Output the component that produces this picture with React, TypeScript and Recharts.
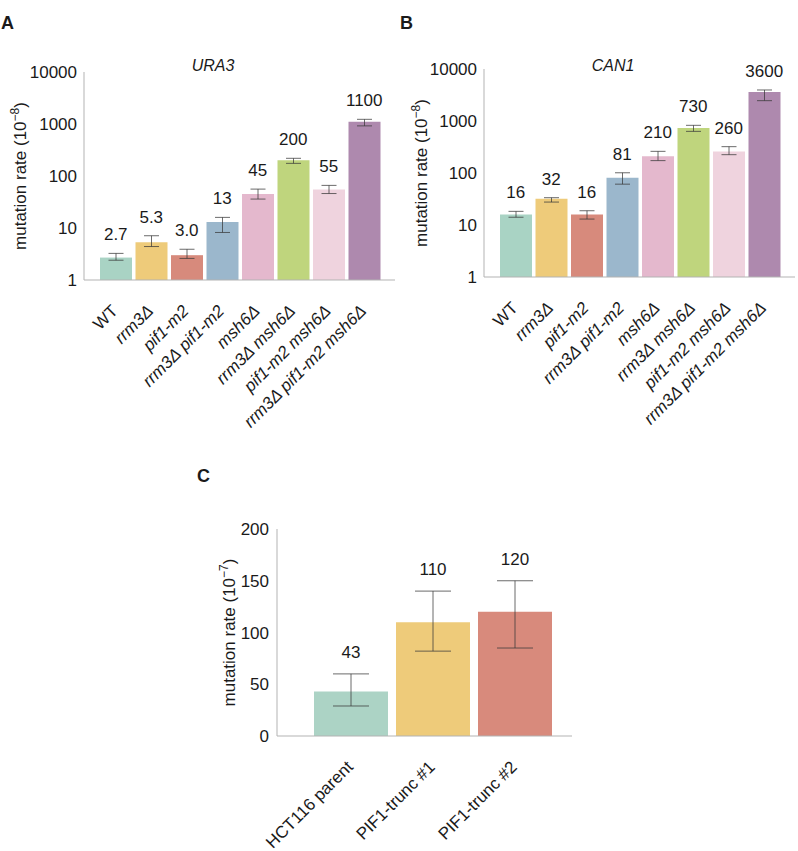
import React from 'react';
import { ComposedChart, Bar, Line, XAxis, YAxis, ErrorBar, LabelList, Label, Cell } from 'recharts';

const FONT = '"Liberation Sans", Arial, Helvetica, sans-serif';
const INK = '#1a1a1a';
const AXIS = '#b3b3b3';

// yeast genotypes (panels A and B)
const genotypes = ['WT', 'rrm3Δ', 'pif1-m2', 'rrm3Δ pif1-m2', 'msh6Δ', 'rrm3Δ msh6Δ', 'pif1-m2 msh6Δ', 'rrm3Δ pif1-m2 msh6Δ'];
const genotypeColors = ['#a9d3c4', '#eecb7a', '#d78a7c', '#9bb7cc', '#e4b8cd', '#bfd57d', '#efd3de', '#ae89ae'];

const ura3Rate = [2.7, 5.3, 3.0, 13, 45, 200, 55, 1100];
const ura3Low = [2.4, 4.4, 2.6, 8.2, 36, 175, 46, 920];
const ura3High = [3.25, 7.1, 3.9, 16, 56, 219, 66, 1230];

const can1Rate = [16, 32, 16, 81, 210, 730, 260, 3600];
const can1Low = [14.1, 27.6, 13, 61, 173, 632, 225, 2460];
const can1High = [18.3, 33.5, 18.8, 101, 261, 826, 321, 3950];

const logTicks = [1, 10, 100, 1000, 10000];

// human cell lines (panel C)
const cellLines = ['HCT116 parent', 'PIF1-trunc #1', 'PIF1-trunc #2'];
const cellColors = ['#acd3c5', '#eecb7a', '#d88a7c'];
const humanRate = [43, 110, 120];
const humanLow = [29, 82, 85];
const humanHigh = [60, 140, 150];
const linearTicks = [0, 50, 100, 150, 200];

const fmt = (v: number) => (v < 10 ? v.toFixed(1) : String(v));

function buildRows(names: string[], rate: number[], low: number[], high: number[]) {
  return names.map((name, i) => ({
    name,
    rate: rate[i],
    high: high[i],
    err: [rate[i] - low[i], high[i] - rate[i]],
    text: fmt(rate[i]),
  }));
}

const ura3Rows = buildRows(genotypes, ura3Rate, ura3Low, ura3High);
const can1Rows = buildRows(genotypes, can1Rate, can1Low, can1High);
const humanRows = buildRows(cellLines, humanRate, humanLow, humanHigh);

function SlantTick({ x, y, payload, italic }: any) {
  const name = payload.value as string;
  const ax = x + 3;
  const ay = y + 32;
  return (
    <text
      x={ax}
      y={ay}
      transform={`rotate(-45, ${ax}, ${ay})`}
      textAnchor="end"
      fontSize={17}
      fontFamily={FONT}
      fontStyle={italic && name !== 'WT' ? 'italic' : 'normal'}
      fill={INK}
    >
      {name}
    </text>
  );
}

const yLabel = (exp: string, cx: number) => (props: any) => {
  const vb = props.viewBox || {};
  const tx = (vb.x ?? 0) + cx;
  const ty = (vb.y ?? 0) + (vb.height ?? 0) / 2;
  return (
    <text
      x={tx}
      y={ty}
      transform={`rotate(-90, ${tx}, ${ty})`}
      textAnchor="middle"
      fontSize={17}
      fontFamily={FONT}
      fill={INK}
    >
      mutation rate (10
      <tspan dy={-7} fontSize={12}>{exp}</tspan>
      <tspan dy={7}>)</tspan>
    </text>
  );
};

function YeastPanel({ rows, top, labelX, marginRight }: any) {
  return (
    <ComposedChart
      width={400 - (marginRight === 3 ? 2 : 0)}
      height={440}
      data={rows}
      margin={{ top, right: marginRight, bottom: 0, left: 0 }}
    >
      <XAxis
        dataKey="name"
        type="category"
        height={440 - top - 208}
        padding={{ left: 14, right: 13 }}
        stroke={AXIS}
        tickLine={false}
        tickSize={0}
        tickMargin={0}
        interval={0}
        tick={<SlantTick italic />}
      />
      <YAxis
        scale="log"
        domain={[1, 10000]}
        ticks={logTicks}
        allowDataOverflow
        width={84}
        stroke={AXIS}
        tickLine={false}
        tickSize={0}
        tickMargin={7}
        tick={{ fontSize: 17, fill: INK, fontFamily: FONT }}
      >
        <Label content={yLabel('−8', labelX)} />
      </YAxis>
      <Bar dataKey="rate" barSize={32} isAnimationActive={false}>
        {rows.map((_: any, i: number) => (
          <Cell key={i} fill={genotypeColors[i]} />
        ))}
        <ErrorBar dataKey="err" width={7.5} stroke="#3a3a3a" strokeOpacity={0.75} strokeWidth={1} />
      </Bar>
      <Line dataKey="high" stroke="none" dot={false} activeDot={false} isAnimationActive={false} legendType="none">
        <LabelList dataKey="text" position="top" offset={13} fontSize={17} fill={INK} fontFamily={FONT} />
      </Line>
    </ComposedChart>
  );
}

export default function App() {
  const letter: React.CSSProperties = {
    position: 'absolute',
    fontFamily: FONT,
    fontWeight: 'bold',
    fontSize: 18,
    lineHeight: '18px',
    color: INK,
  };
  const title: React.CSSProperties = {
    position: 'absolute',
    fontFamily: FONT,
    fontStyle: 'italic',
    fontSize: 16,
    lineHeight: '16px',
    color: INK,
    transform: 'translateX(-50%)',
  };
  return (
    <div style={{ position: 'absolute', left: 0, top: 0, width: 798, height: 851, background: '#fff', overflow: 'hidden' }}>
      <div style={{ ...letter, left: 1, top: 14 }}>A</div>
      <div style={{ ...letter, left: 400, top: 14 }}>B</div>
      <div style={{ ...letter, left: 197, top: 467 }}>C</div>
      <div style={{ ...title, left: 213, top: 58 }}>URA3</div>
      <div style={{ ...title, left: 613, top: 58 }}>CAN1</div>

      <div style={{ position: 'absolute', left: 0, top: 0 }}>
        <YeastPanel rows={ura3Rows} top={72} labelX={26} marginRight={5} />
      </div>
      <div style={{ position: 'absolute', left: 400, top: 0 }}>
        <YeastPanel rows={can1Rows} top={69} labelX={27} marginRight={3} />
      </div>

      <div style={{ position: 'absolute', left: 190, top: 480 }}>
        <ComposedChart width={382} height={371} data={humanRows} margin={{ top: 49, right: 0, bottom: 0, left: 0 }}>
          <XAxis
            dataKey="name"
            type="category"
            height={115}
            padding={{ left: 33, right: 16 }}
            stroke={AXIS}
            tickLine={false}
            tickSize={0}
            tickMargin={0}
            interval={0}
            tick={<SlantTick italic={false} />}
          />
          <YAxis
            domain={[0, 200]}
            ticks={linearTicks}
            width={87}
            stroke={AXIS}
            tickLine={false}
            tickSize={0}
            tickMargin={8}
            tick={{ fontSize: 17, fill: INK, fontFamily: FONT }}
          >
            <Label content={yLabel('−7', 45)} />
          </YAxis>
          <Bar dataKey="rate" barSize={74} isAnimationActive={false}>
            {humanRows.map((_, i) => (
              <Cell key={i} fill={cellColors[i]} />
            ))}
            <ErrorBar dataKey="err" width={18} stroke="#3a3a3a" strokeOpacity={0.75} strokeWidth={1} />
          </Bar>
          <Line dataKey="high" stroke="none" dot={false} activeDot={false} isAnimationActive={false} legendType="none">
            <LabelList dataKey="text" position="top" offset={16} fontSize={17} fill={INK} fontFamily={FONT} />
          </Line>
        </ComposedChart>
      </div>
    </div>
  );
}
